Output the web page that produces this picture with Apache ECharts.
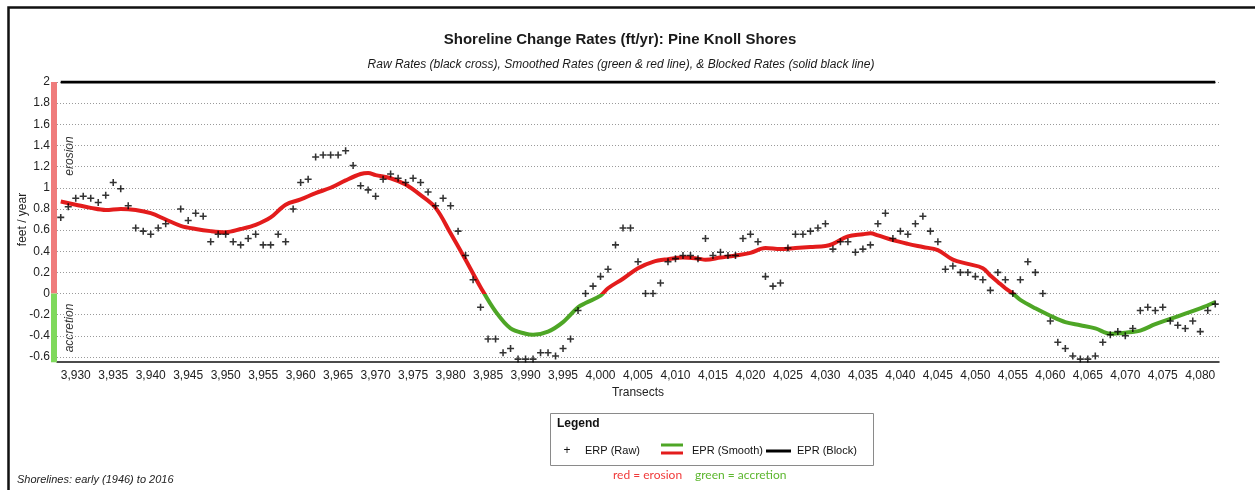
<!DOCTYPE html>
<html>
<head>
<meta charset="utf-8">
<script src="https://cdn.jsdelivr.net/npm/echarts@6/dist/echarts.min.js"></script>
<style>
html,body{margin:0;padding:0;background:#fff;}
#chart{width:1255px;height:490px;}
</style>
</head>
<body>
<div id="chart"></div>
<script>
// ---- Data ----
const FIRST_TRANSECT = 3928;
const LAST_TRANSECT = 4082;
const transects = [];
for (let t = FIRST_TRANSECT; t <= LAST_TRANSECT; t++) transects.push(String(t));

// Raw rates (ft/yr), one per transect 3928..4082 (null = no value)
const rawValues = [
  0.72, 0.82,                                                   // 3928-3929
  0.90, 0.92, 0.90, 0.86, 0.93, 1.05, 0.99, 0.83, 0.62, 0.59,   // 3930-3939
  0.56, 0.62, 0.66, null, 0.80, 0.69, 0.76, 0.73, 0.49, 0.56,   // 3940-3949
  0.56, 0.49, 0.46, 0.52, 0.56, 0.46, 0.46, 0.56, 0.49, 0.80,   // 3950-3959
  1.05, 1.08, 1.29, 1.31, 1.31, 1.31, 1.35, 1.21, 1.02, 0.98,   // 3960-3969
  0.92, 1.08, 1.13, 1.09, 1.05, 1.09, 1.05, 0.96, 0.83, 0.90,   // 3970-3979
  0.83, 0.59, 0.36, 0.13, -0.13, -0.43, -0.43, -0.56, -0.52, -0.62, // 3980-3989
  -0.62, -0.62, -0.56, -0.56, -0.59, -0.52, -0.43, -0.16, 0.00, 0.07, // 3990-3999
  0.16, 0.23, 0.46, 0.62, 0.62, 0.30, 0.00, 0.00, 0.10, 0.30,   // 4000-4009
  0.33, 0.36, 0.36, 0.33, 0.52, 0.36, 0.39, 0.36, 0.36, 0.52,   // 4010-4019
  0.56, 0.49, 0.16, 0.07, 0.10, 0.43, 0.56, 0.56, 0.59, 0.62,   // 4020-4029
  0.66, 0.42, 0.49, 0.49, 0.39, 0.42, 0.46, 0.66, 0.76, 0.52,   // 4030-4039
  0.59, 0.56, 0.66, 0.73, 0.59, 0.49, 0.23, 0.26, 0.20, 0.20,   // 4040-4049
  0.16, 0.13, 0.03, 0.20, 0.13, 0.00, 0.13, 0.30, 0.20, 0.00,   // 4050-4059
  -0.26, -0.46, -0.52, -0.59, -0.62, -0.62, -0.59, -0.46, -0.39, -0.36, // 4060-4069
  -0.40, -0.33, -0.16, -0.13, -0.16, -0.13, -0.26, -0.30, -0.33, -0.26, // 4070-4079
  -0.36, -0.16, -0.10                                           // 4080-4082
];

// Smoothed rates read at selected transects
const smoothTransects = [3928,3930,3932,3934,3936,3938,3940,3942,3944,3946,3948,3950,3952,3954,3956,3958,
  3960,3962,3964,3966,3968,3969,3970,3972,3974,3976,3978,3980,3982,3984,3986,3988,3990,3991,3993,3995,3997,3998,
  4000,4001,4003,4005,4007,4009,4011,4013,4014,4016,4018,4020,4022,4024,4026,4028,4030,4031,4033,4035,4036,4037,
  4039,4041,4043,4045,4047,4049,4051,4052,4053,4054,4055,4056,4058,4060,4062,4064,4066,4068,4070,4072,4074,4076,
  4078,4080,4082];
const smoothValues = [0.87,0.84,0.81,0.79,0.80,0.79,0.76,0.70,0.64,0.61,0.59,0.58,0.61,0.65,0.72,0.84,
  0.89,0.95,1.00,1.07,1.13,1.14,1.12,1.09,1.03,0.93,0.81,0.57,0.32,0.06,-0.17,-0.33,-0.38,-0.39,-0.36,-0.27,-0.13,-0.09,
  -0.02,0.05,0.14,0.24,0.30,0.325,0.34,0.33,0.32,0.34,0.36,0.385,0.43,0.42,0.43,0.44,0.45,0.47,0.54,0.56,0.57,0.55,
  0.505,0.47,0.44,0.41,0.32,0.28,0.24,0.17,0.11,0.05,0.00,-0.06,-0.14,-0.21,-0.27,-0.30,-0.33,-0.38,-0.37,-0.35,-0.29,-0.24,
  -0.19,-0.14,-0.08];

// Blocked rate (constant)
const blockTransects = [3928, 4082];
const blockValues = [2, 2];

// Left erosion / accretion band [top, bottom] in ft/yr
const bandRanges = [[2, 0], [0, -0.65]];
const bandColors = ['#ef7c7c', '#7fd95c'];
const EROSION_RED = '#e31c1c', ACCRETION_GREEN = '#4ea626';

const yMin = -0.6, yMax = 2, yInterval = 0.2;

// ---- Chart ----
const FONT = '"Liberation Sans", Arial, sans-serif';
const chart = echarts.init(document.getElementById('chart'), null, {renderer: 'canvas'});
const every5 = (idx, val) => Number(val) % 5 === 0;

const baseGraphics = [
  {type: 'rect', left: 6, top: 5, shape: {width: 1260, height: 500}, silent: true,
   style: {fill: 'none', stroke: '#111', lineWidth: 2.5}},
  {type: 'text', x: 70, y: 156, rotation: Math.PI / 2,
   style: {text: 'erosion', font: 'italic 12px ' + FONT, fill: '#333', align: 'center', verticalAlign: 'middle'}},
  {type: 'text', x: 70, y: 328, rotation: Math.PI / 2,
   style: {text: 'accretion', font: 'italic 12px ' + FONT, fill: '#333', align: 'center', verticalAlign: 'middle'}},
  {type: 'text', x: 17, y: 480,
   style: {text: 'Shorelines: early (1946) to 2016', font: 'italic 11px ' + FONT, fill: '#222', verticalAlign: 'middle'}},
  {type: 'rect', shape: {x: 550.5, y: 413.5, width: 323, height: 52},
   style: {fill: '#fff', stroke: '#8a8a8a', lineWidth: 1}},
  {type: 'text', x: 557, y: 424,
   style: {text: 'Legend', font: 'bold 12px ' + FONT, fill: '#111', verticalAlign: 'middle'}},
  {type: 'text', x: 567, y: 451,
   style: {text: '+', font: '12px ' + FONT, fill: '#111', align: 'center', verticalAlign: 'middle'}},
  {type: 'text', x: 585, y: 451,
   style: {text: 'ERP (Raw)', font: '11px ' + FONT, fill: '#111', verticalAlign: 'middle'}},
  {type: 'line', shape: {x1: 661, y1: 445, x2: 683, y2: 445}, style: {stroke: ACCRETION_GREEN, lineWidth: 3}},
  {type: 'line', shape: {x1: 661, y1: 453, x2: 683, y2: 453}, style: {stroke: EROSION_RED, lineWidth: 3}},
  {type: 'text', x: 692, y: 451,
   style: {text: 'EPR (Smooth)', font: '11px ' + FONT, fill: '#111', verticalAlign: 'middle'}},
  {type: 'line', shape: {x1: 766, y1: 451, x2: 791, y2: 451}, style: {stroke: '#000', lineWidth: 3}},
  {type: 'text', x: 797, y: 451,
   style: {text: 'EPR (Block)', font: '11px ' + FONT, fill: '#111', verticalAlign: 'middle'}},
  {type: 'text', x: 613, y: 475,
   style: {text: 'red = erosion', font: '12px Lato, "Open Sans", sans-serif', fill: '#f03a3a', verticalAlign: 'middle'}},
  {type: 'text', x: 695, y: 475,
   style: {text: 'green = accretion', font: '12px Lato, "Open Sans", sans-serif', fill: '#5cb62e', verticalAlign: 'middle'}}
];

const option = {
  backgroundColor: '#fff',
  animation: false,
  textStyle: {fontFamily: FONT},
  title: [
    {text: 'Shoreline Change Rates (ft/yr): Pine Knoll Shores', left: 615, top: 27, textAlign: 'center',
     textStyle: {fontSize: 15, fontWeight: 'bold', color: '#1a1a1a', fontFamily: FONT}},
    {text: 'Raw Rates (black cross), Smoothed Rates (green & red line), & Blocked Rates (solid black line)',
     left: 616, top: 54, textAlign: 'center',
     textStyle: {fontSize: 12, fontStyle: 'italic', fontWeight: 'normal', color: '#1a1a1a', fontFamily: FONT}}
  ],
  grid: {left: 57, right: 36, top: 82, bottom: 133, containLabel: false},
  xAxis: {
    type: 'category', data: transects, boundaryGap: true, offset: 5,
    name: 'Transects', nameLocation: 'middle', nameGap: 24,
    nameTextStyle: {fontSize: 12, color: '#222', fontFamily: FONT},
    axisLine: {onZero: false, lineStyle: {color: '#111', width: 1.5}},
    axisTick: {alignWithLabel: true, interval: every5, length: 4, lineStyle: {color: '#111'}},
    axisLabel: {interval: every5, fontSize: 12, color: '#222', margin: 8, fontFamily: FONT,
      formatter: v => Number(v).toLocaleString('en-US')},
    splitLine: {show: false}
  },
  yAxis: {
    type: 'value', min: yMin, max: yMax, interval: yInterval,
    name: 'feet / year', nameLocation: 'middle', nameGap: 28, nameMoveOverlap: false,
    nameTextStyle: {fontSize: 12, color: '#222', fontFamily: FONT},
    axisLine: {show: false}, axisTick: {show: false},
    axisLabel: {fontSize: 12, color: '#222', margin: 7, fontFamily: FONT,
      formatter: v => String(Math.round(v * 10) / 10)},
    splitLine: {show: true, lineStyle: {color: '#9a9a9a', type: [1, 2], width: 1}}
  },
  series: [
    {
      id: 'raw', name: 'ERP (Raw)', type: 'scatter', clip: false, z: 4,
      symbol: 'path://M3.5,0h2v3.5h3.5v2h-3.5v3.5h-2v-3.5h-3.5v-2h3.5z', symbolSize: 7,
      itemStyle: {color: '#000'},
      data: rawValues.map((v, i) => [transects[i], v]).filter(d => d[1] !== null)
    },
    {
      id: 'smooth', name: 'EPR (Smooth)', type: 'line', smooth: 0.35, showSymbol: false, symbol: 'none', z: 3,
      lineStyle: {width: 4, color: EROSION_RED}, itemStyle: {color: EROSION_RED},
      data: smoothTransects.map((t, i) => [String(t), smoothValues[i]])
    },
    {
      id: 'block', name: 'EPR (Block)', type: 'line', showSymbol: false, symbol: 'none', z: 5,
      lineStyle: {width: 3, color: '#000'}, itemStyle: {color: '#000'},
      data: blockTransects.map((t, i) => [String(t), blockValues[i]])
    }
  ],
  graphic: baseGraphics
};
chart.setOption(option);

// Red above zero, green below: gradient split at the pixel of y = 0
const pTop = chart.convertToPixel({gridIndex: 0}, [0, yMax]);
const pBot = chart.convertToPixel({gridIndex: 0}, [0, yMin]);
const pZero = chart.convertToPixel({gridIndex: 0}, [0, 0]);
const f = (pZero[1] - pTop[1]) / (pBot[1] - pTop[1]);
const grad = new echarts.graphic.LinearGradient(0, pTop[1], 0, pBot[1], [
  {offset: 0, color: EROSION_RED}, {offset: f, color: EROSION_RED},
  {offset: f, color: ACCRETION_GREEN}, {offset: 1, color: ACCRETION_GREEN}
], true);

// Erosion / accretion band placed through the axis scales
const bandGraphics = bandRanges.map((r, i) => {
  const top = chart.convertToPixel({gridIndex: 0}, [0, r[0]]);
  const bot = chart.convertToPixel({gridIndex: 0}, [0, r[1]]);
  const next = chart.convertToPixel({gridIndex: 0}, [1, r[0]]);
  const half = (next[0] - top[0]) / 2;
  const left = top[0] - half;
  return {type: 'rect', z: 10, silent: true,
    shape: {x: left - 6, y: top[1], width: 6, height: bot[1] - top[1]},
    style: {fill: bandColors[i]}};
});
chart.setOption({
  series: [{id: 'smooth', lineStyle: {color: grad}}],
  graphic: baseGraphics.concat(bandGraphics)
});
</script>
</body>
</html>
